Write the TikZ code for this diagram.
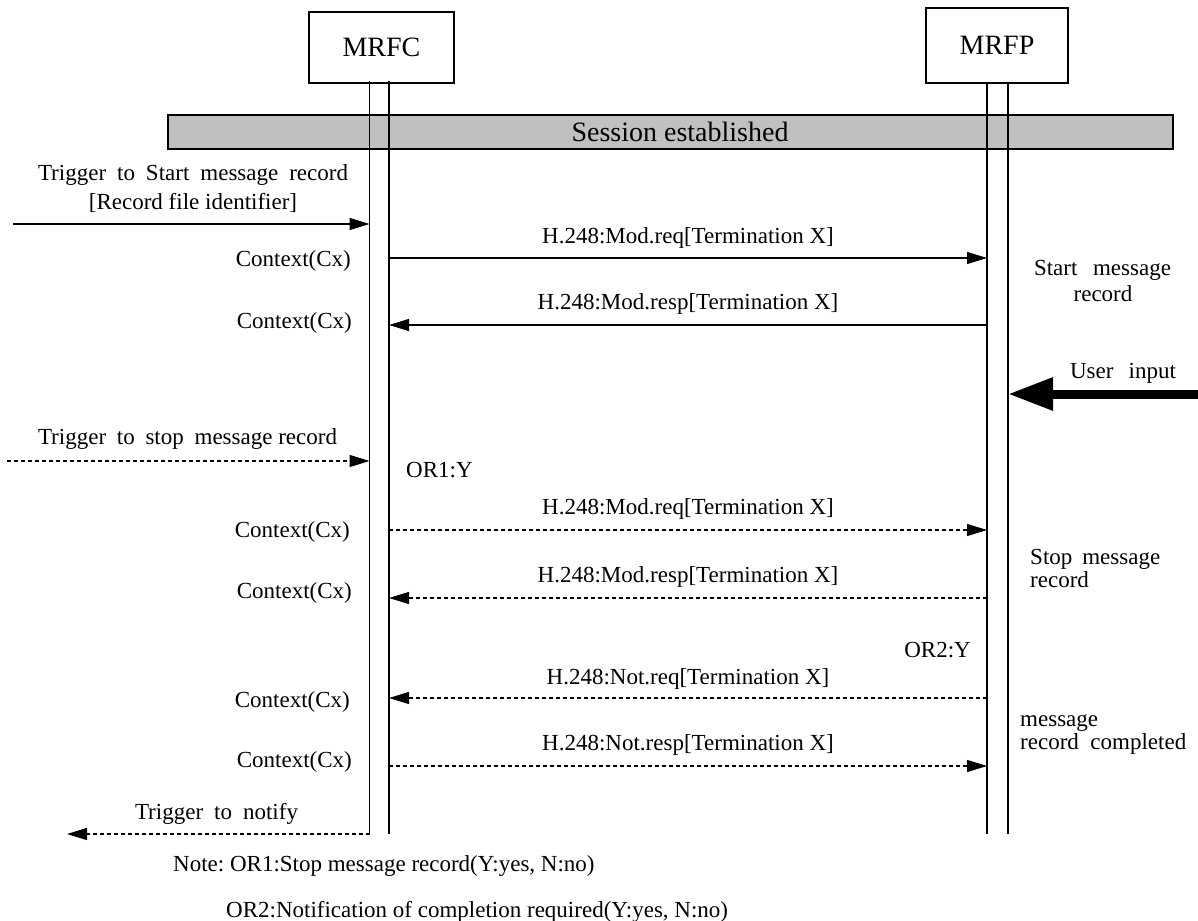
\documentclass[tikz,border=0pt]{standalone}
\usepackage{fontspec}
\setmainfont{Liberation Serif}
\usetikzlibrary{arrows.meta}
\definecolor{sessgray}{RGB}{192,192,192}
\frenchspacing
\tikzset{
  lbl/.style={font=\fontsize{23}{27}\selectfont, inner sep=0pt},
  ent/.style={draw, line width=1.3pt, inner sep=0pt, font=\fontsize{28}{32}\selectfont},
  life/.style={line width=1.3pt},
  msg/.style={line width=1.2pt, -{Triangle[length=20pt,width=12pt]}},
  dmsg/.style={msg, dash pattern=on 4pt off 3pt},
  bigarrow/.style={line width=9pt, -{Triangle[length=45pt,width=31pt]}},
}
\begin{document}
\begin{tikzpicture}[x=1pt,y=-1pt]
\useasboundingbox (0,0) rectangle (1198,920);
% entities
\node[ent, minimum width=145pt, minimum height=71pt] (mrfc) at (381.5,47.5) {MRFC};
\node[ent, minimum width=142pt, minimum height=75pt] (mrfp) at (997,45.5) {MRFP};
% session bar
\draw[line width=1.3pt, fill=sessgray] (168,115) rectangle (1173,149);
\node[ent, draw=none] (sess) at (680,132) {Session established};
% lifelines
\coordinate (c1t) at (369.5,81); \coordinate (c1b) at (369.5,834);
\coordinate (c2t) at (389,81);   \coordinate (c2b) at (389,834);
\coordinate (p1t) at (987,83);   \coordinate (p1b) at (987,834);
\coordinate (p2t) at (1008,83);  \coordinate (p2b) at (1008,834);
\draw[life] (c1t) -- (c1b);
\draw[life] (c2t) -- (c2b);
\draw[life] (p1t) -- (p1b);
\draw[life] (p2t) -- (p2b);
% message rows
\coordinate (y1) at (13,224);
\coordinate (y2) at (0,258);
\coordinate (y3) at (0,325);
\coordinate (y4) at (1198,394);
\coordinate (y5) at (7,461);
\coordinate (y6) at (0,530);
\coordinate (y7) at (0,598);
\coordinate (y8) at (0,698);
\coordinate (y9) at (0,766);
\coordinate (y10) at (67,834);
% arrows
\draw[msg] (y1) -- (c1t |- y1);
\draw[msg] (c2t |- y2) -- (p1t |- y2);
\draw[msg] (p1t |- y3) -- (c2t |- y3);
\draw[bigarrow] (y4) -- (p2t |- y4);
\draw[dmsg] (y5) -- (c1t |- y5);
\draw[dmsg] (c2t |- y6) -- (p1t |- y6);
\draw[dmsg] (p1t |- y7) -- (c2t |- y7);
\draw[dmsg] (p1t |- y8) -- (c2t |- y8);
\draw[dmsg] (c2t |- y9) -- (p1t |- y9);
\draw[dmsg] (c1b) -- (y10);
% labels
\node[lbl, anchor=base] (tr1a) at (193,181) {\makebox[310pt][s]{Trigger to Start message record}};
\node[lbl, anchor=base] (tr1b) at (193,209) {[Record file identifier]};
\node[lbl, anchor=base east] (cx1) at (351,266) {Context(Cx)};
\node[lbl, anchor=base] (m1) at (688,243) {H.248:Mod.req[Termination X]};
\node[lbl, anchor=base] (sm1) at (1102.5,275) {\makebox[137pt][s]{Start message}};
\node[lbl, anchor=base] (sm2) at (1103,301) {record};
\node[lbl, anchor=base] (m2) at (688,309) {H.248:Mod.resp[Termination X]};
\node[lbl, anchor=base east] (cx2) at (352,328) {Context(Cx)};
\node[lbl, anchor=base] (ui) at (1123,378) {\makebox[106pt][s]{User input}};
\node[lbl, anchor=base] (tr2) at (187.5,444) {\makebox[299pt]{Trigger\hfill to\hfill stop\hfill message record}};
\node[lbl, anchor=base west] (or1) at (406,477) {OR1:Y};
\node[lbl, anchor=base] (m3) at (688,514) {H.248:Mod.req[Termination X]};
\node[lbl, anchor=base east] (cx3) at (350,537) {Context(Cx)};
\node[lbl, anchor=base west] (st1) at (1030,564) {\makebox[130pt][s]{Stop message}};
\node[lbl, anchor=base west] (st2) at (1030,587) {record};
\node[lbl, anchor=base] (m4) at (688,582) {H.248:Mod.resp[Termination X]};
\node[lbl, anchor=base east] (cx4) at (352,598) {Context(Cx)};
\node[lbl, anchor=base east] (or2) at (971,657) {OR2:Y};
\node[lbl, anchor=base] (m5) at (688,684) {H.248:Not.req[Termination X]};
\node[lbl, anchor=base east] (cx5) at (350,707) {Context(Cx)};
\node[lbl, anchor=base west] (mc1) at (1020,726) {message};
\node[lbl, anchor=base west] (mc2) at (1020,749) {record\ \ completed};
\node[lbl, anchor=base] (m6) at (688,750) {H.248:Not.resp[Termination X]};
\node[lbl, anchor=base east] (cx6) at (352,767) {Context(Cx)};
\node[lbl, anchor=base] (tr3) at (216.5,819) {\makebox[163pt][s]{Trigger to notify}};
\node[lbl, anchor=base west] (note1) at (173,871) {Note: OR1:Stop message record(Y:yes, N:no)};
\node[lbl, anchor=base west] (note2) at (226,917) {OR2:Notification of completion required(Y:yes, N:no)};
\end{tikzpicture}
\end{document}
